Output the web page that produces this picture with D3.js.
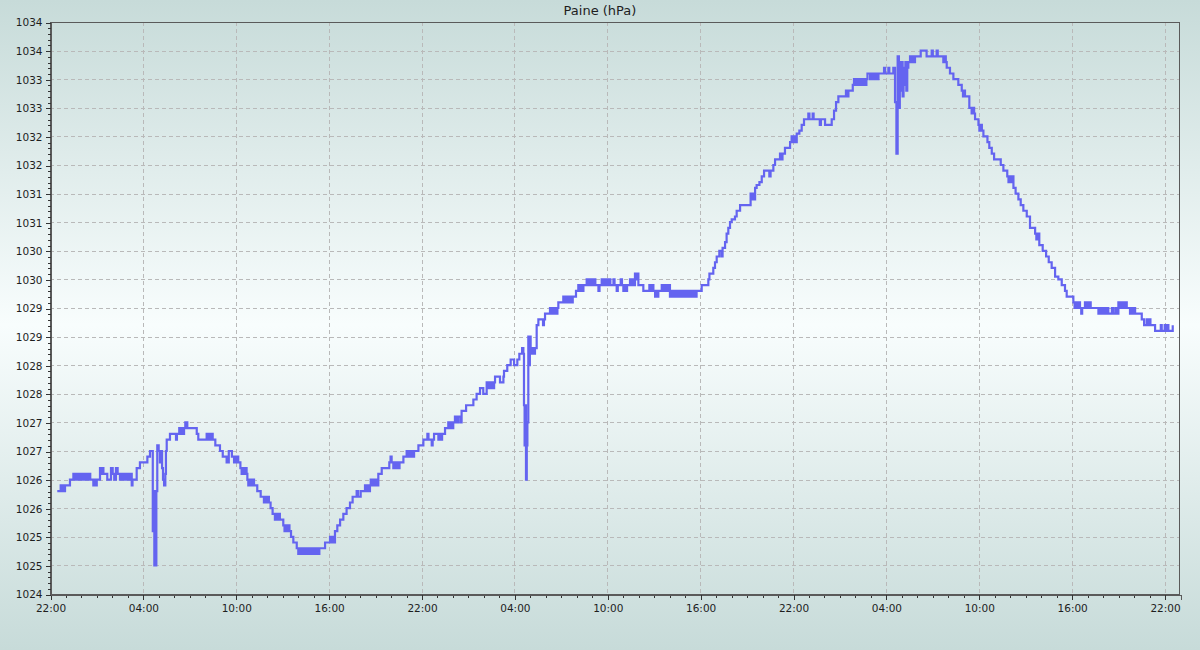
<!DOCTYPE html>
<html><head><meta charset="utf-8">
<script src="https://cdn.jsdelivr.net/npm/d3@7"></script>
<style>html,body{margin:0;padding:0;background:#c8dcda;overflow:hidden}</style>
</head><body><svg id="c" width="1200" height="650"></svg>
<script>
// ---- Data (hours since 22:00 of day 1, pressure hPa) ----
const title = "Paine (hPa)";
const xTickHours = [0,6,12,18,24,30,36,42,48,54,60,66,72];
const xTickLabels = ["22:00","04:00","10:00","16:00","22:00","04:00","10:00","16:00","22:00","04:00","10:00","16:00","22:00"];
const yTickValues = [1024,1024.5,1025,1025.5,1026,1026.5,1027,1027.5,1028,1028.5,1029,1029.5,1030,1030.5,1031,1031.5,1032,1032.5,1033,1033.5,1034];
const yTickLabels = ["1024","1025","1025","1026","1026","1027","1027","1028","1028","1029","1029","1030","1030","1031","1031","1032","1032","1033","1033","1034","1034"];

const hoursA = [0.47,0.69,0.76,0.83,0.90,0.97,1.29,1.51,1.60,1.70,
  1.80,1.90,2.00,2.10,2.20,2.30,2.40,2.50,2.60,2.80,
  2.88,2.95,3.02,3.23,3.30,3.37,3.45,3.70,3.94,4.05,
  4.15,4.26,4.37,4.52,4.60,4.70,4.80,4.90,5.00,5.10,
  5.20,5.28,5.33,5.60,5.81,6.29,6.46,6.64,6.70,6.74,
  6.78,6.82,6.87,6.93,7.02,7.10,7.16,7.24,7.30,7.37,
  7.45,7.49,7.54,7.75,8.14,8.20,8.35,8.42,8.50,8.58,
  8.66,8.74,8.87,9.48,9.58,10.12,10.20,10.28,10.36,10.44,
  10.51,10.68,10.98,11.16,11.41,11.55];
const hpaA = [1025.8,1025.9,1025.8,1025.9,1025.8,1025.9,1026.0,1026.1,1026.0,1026.1,
  1026.0,1026.1,1026.0,1026.1,1026.0,1026.1,1026.0,1026.1,1026.0,1025.9,
  1026.0,1025.9,1026.0,1026.2,1026.1,1026.2,1026.1,1026.0,1026.2,1026.1,
  1026.0,1026.2,1026.1,1026.0,1026.1,1026.0,1026.1,1026.0,1026.1,1026.0,
  1026.1,1025.9,1026.0,1026.2,1026.3,1026.4,1026.5,1025.1,1025.8,1024.5,
  1025.4,1024.5,1025.8,1026.6,1026.5,1026.3,1026.5,1026.2,1026.0,1025.9,
  1026.1,1026.5,1026.7,1026.8,1026.7,1026.8,1026.9,1026.8,1026.9,1026.8,
  1026.9,1027.0,1026.9,1026.8,1026.7,1026.8,1026.7,1026.8,1026.7,1026.8,
  1026.7,1026.6,1026.5,1026.4,1026.3,1026.5];

const hoursB = [11.75,11.89,11.95,12.02,12.09,12.16,12.30,12.38,12.46,12.54,
  12.62,12.70,12.75,12.81,12.90,13.00,13.10,13.18,13.39,13.61,
  13.82,13.90,13.98,14.06,14.14,14.25,14.38,14.53,14.61,14.69,
  14.77,14.85,15.07,15.15,15.23,15.31,15.39,15.47,15.57,15.72,
  15.94,16.04,16.12,16.20,16.28,16.36,16.44,16.52,16.60,16.68,
  16.76,16.84,16.92,17.00,17.08,17.16,17.24,17.32,17.40,17.77,
  18.09,18.17,18.25,18.33,18.41,18.56,18.74,18.95,19.16,19.38,
  19.55,19.81,19.90,20.07,20.35,20.43,20.51,20.59,20.67,20.72,
  20.85,20.92,21.00,21.08,21.15,21.21,21.43,21.92,22.00,22.07,
  22.18,22.26,22.34,22.42,22.50,22.58,22.83,23.04,23.12,23.20,
  23.28,23.36,23.44,23.52,23.80,24.12];
const hpaB = [1026.4,1026.3,1026.4,1026.3,1026.4,1026.3,1026.2,1026.1,1026.2,1026.1,
  1026.2,1026.1,1026.0,1025.9,1026.0,1025.9,1026.0,1025.9,1025.8,1025.7,
  1025.6,1025.7,1025.6,1025.7,1025.6,1025.5,1025.4,1025.3,1025.4,1025.3,
  1025.4,1025.3,1025.2,1025.1,1025.2,1025.1,1025.2,1025.1,1025.0,1024.9,
  1024.8,1024.7,1024.8,1024.7,1024.8,1024.7,1024.8,1024.7,1024.8,1024.7,
  1024.8,1024.7,1024.8,1024.7,1024.8,1024.7,1024.8,1024.7,1024.8,1024.9,
  1025.0,1024.9,1025.0,1024.9,1025.1,1025.2,1025.3,1025.4,1025.5,1025.6,
  1025.7,1025.8,1025.7,1025.8,1025.9,1025.8,1025.9,1025.8,1025.9,1026.0,
  1025.9,1026.0,1025.9,1026.0,1025.9,1026.1,1026.2,1026.3,1026.4,1026.3,
  1026.2,1026.3,1026.2,1026.3,1026.2,1026.3,1026.4,1026.5,1026.4,1026.5,
  1026.4,1026.5,1026.4,1026.5,1026.6,1026.7];

const hoursC = [24.38,24.45,24.66,24.72,24.81,25.09,25.17,25.25,25.33,25.52,
  25.73,25.81,25.89,25.97,26.05,26.16,26.30,26.38,26.53,26.59,
  26.88,27.35,27.56,27.78,27.99,28.21,28.29,28.37,28.45,28.53,
  28.61,28.69,28.75,29.07,29.29,29.33,29.54,29.76,29.98,30.19,
  30.32,30.50,30.58,30.62,30.66,30.70,30.75,30.80,30.84,30.90,
  30.95,31.00,31.05,31.10,31.15,31.20,31.25,31.33,31.44,31.55,
  31.85,31.91,31.98,32.30,32.38,32.46,32.54,32.62,32.70,32.78,
  32.84,33.16,33.24,33.32,33.40,33.48,33.56,33.64,33.72,33.77,
  33.98,34.13,34.21,34.29,34.37,34.46,34.67,34.75,34.83,34.91,
  34.99,35.07,35.15,35.23,35.32,35.43,35.50,35.64,35.72,35.80,
  35.88,35.96,36.04,36.12,36.20];
const hpaC = [1026.8,1026.7,1026.6,1026.7,1026.8,1026.7,1026.8,1026.7,1026.8,1026.9,
  1027.0,1026.9,1027.0,1026.9,1027.0,1027.1,1027.0,1027.1,1027.0,1027.2,
  1027.3,1027.4,1027.5,1027.6,1027.5,1027.7,1027.6,1027.7,1027.6,1027.7,
  1027.6,1027.7,1027.8,1027.7,1027.8,1027.9,1028.0,1028.1,1028.0,1028.1,
  1028.2,1028.3,1028.2,1027.3,1026.6,1027.3,1026.0,1026.6,1027.0,1028.5,
  1028.0,1028.5,1028.2,1028.3,1028.2,1028.3,1028.2,1028.3,1028.7,1028.8,
  1028.7,1028.8,1028.9,1029.0,1028.9,1029.0,1028.9,1029.0,1028.9,1029.0,
  1029.1,1029.2,1029.1,1029.2,1029.1,1029.2,1029.1,1029.2,1029.1,1029.2,
  1029.3,1029.4,1029.3,1029.4,1029.3,1029.4,1029.5,1029.4,1029.5,1029.4,
  1029.5,1029.4,1029.5,1029.4,1029.4,1029.3,1029.4,1029.5,1029.4,1029.5,
  1029.4,1029.5,1029.4,1029.5,1029.4];

const hoursD = [36.29,36.40,36.47,36.61,36.68,36.87,36.95,37.04,37.12,37.20,
  37.28,37.36,37.47,37.55,37.63,37.71,37.79,37.86,37.93,38.01,
  38.33,38.72,38.80,38.88,38.98,39.09,39.17,39.25,39.30,39.52,
  39.62,39.70,39.78,39.86,39.94,40.02,40.05,40.13,40.21,40.29,
  40.37,40.45,40.53,40.61,40.69,40.77,40.85,40.93,41.01,41.09,
  41.17,41.25,41.33,41.41,41.49,41.57,41.65,41.77,42.10,42.53,
  42.60,42.85,42.96,43.07,43.24,43.39,43.45,43.61,43.71,43.82,
  43.93,44.04,44.25,44.36,44.58,45.26,45.34,45.42,45.50,45.55,
  45.65,45.83,45.98,46.13,46.47,46.55,46.73,46.84,47.16,47.24,
  47.32,47.48,47.81,47.91,47.99,48.07,48.15,48.24,48.41];
const hpaD = [1029.4,1029.5,1029.4,1029.3,1029.4,1029.5,1029.4,1029.3,1029.4,1029.3,
  1029.4,1029.4,1029.5,1029.4,1029.5,1029.4,1029.6,1029.5,1029.6,1029.4,
  1029.3,1029.4,1029.3,1029.4,1029.3,1029.2,1029.3,1029.2,1029.3,1029.4,
  1029.3,1029.4,1029.3,1029.4,1029.3,1029.4,1029.2,1029.3,1029.2,1029.3,
  1029.2,1029.3,1029.2,1029.3,1029.2,1029.3,1029.2,1029.3,1029.2,1029.3,
  1029.2,1029.3,1029.2,1029.3,1029.2,1029.3,1029.2,1029.3,1029.4,1029.5,
  1029.6,1029.7,1029.8,1029.9,1030.0,1029.9,1030.05,1030.15,1030.3,1030.4,
  1030.5,1030.55,1030.6,1030.7,1030.8,1031.0,1030.9,1031.0,1030.9,1031.1,
  1031.15,1031.2,1031.3,1031.4,1031.3,1031.4,1031.5,1031.6,1031.7,1031.6,
  1031.7,1031.8,1031.9,1032.0,1031.9,1032.0,1031.9,1032.05,1032.1];

const hoursE = [48.56,48.71,48.99,49.06,49.27,49.33,49.73,49.80,50.07,50.50,
  50.65,50.78,50.93,51.14,51.42,51.50,51.58,51.86,51.94,52.02,
  52.10,52.18,52.26,52.34,52.42,52.50,52.58,52.66,52.74,52.81,
  52.98,53.06,53.14,53.22,53.30,53.38,53.46,53.52,53.88,53.95,
  54.16,54.22,54.48,54.59,54.68,54.76,54.84,54.90,54.96,55.02,
  55.08,55.14,55.20,55.26,55.32,55.38,55.45,55.56,55.64,55.72,
  55.80,55.88,56.25,56.63,56.96,57.03,57.28,57.35,57.71,57.79,
  57.87,57.93,58.14,58.36,58.68,58.90,58.98,59.06,59.11,59.39];
const hpaE = [1032.2,1032.3,1032.4,1032.3,1032.4,1032.3,1032.2,1032.3,1032.2,1032.3,
  1032.45,1032.6,1032.7,1032.7,1032.8,1032.7,1032.8,1032.9,1033.0,1032.9,
  1033.0,1032.9,1033.0,1032.9,1033.0,1032.9,1033.0,1032.9,1033.0,1033.1,
  1033.0,1033.1,1033.0,1033.1,1033.0,1033.1,1033.0,1033.1,1033.2,1033.1,
  1033.2,1033.1,1033.2,1032.6,1031.7,1033.4,1032.5,1033.3,1032.8,1033.3,
  1032.7,1033.2,1032.9,1033.3,1032.8,1033.2,1033.3,1033.4,1033.3,1033.4,
  1033.3,1033.4,1033.5,1033.4,1033.5,1033.4,1033.5,1033.4,1033.3,1033.4,
  1033.3,1033.2,1033.1,1033.0,1032.9,1032.8,1032.7,1032.8,1032.7,1032.5];

const hoursF = [59.54,59.62,59.70,59.76,59.98,60.04,60.12,60.20,60.30,60.56,
  60.68,60.84,60.99,61.42,61.59,61.84,61.92,62.00,62.08,62.16,
  62.24,62.38,62.56,62.71,62.88,63.10,63.31,63.64,63.72,63.80,
  63.91,64.13,64.35,64.52,64.71,64.93,65.14,65.36,65.57,65.68,
  66.11,66.19,66.27,66.35,66.43,66.54,66.62,66.68,66.86,66.94,
  67.02,67.10,67.16,67.23,67.73,67.81,67.89,67.97,68.05,68.13,
  68.21,68.29,68.37,68.60,68.70,68.85,68.92,69.02,69.10,69.18,
  69.26,69.34,69.42,69.50,69.56,69.77,69.85,69.93,70.01,70.10,
  70.53,70.68,70.85,70.93,71.01,71.09,71.39,71.76,71.82,72.01,
  72.09,72.17,72.25,72.53];
const hpaF = [1032.4,1032.5,1032.4,1032.3,1032.2,1032.1,1032.2,1032.1,1032.0,1031.9,
  1031.8,1031.7,1031.6,1031.5,1031.4,1031.3,1031.2,1031.3,1031.2,1031.3,
  1031.1,1031.0,1030.9,1030.8,1030.7,1030.6,1030.4,1030.3,1030.2,1030.3,
  1030.1,1030.0,1029.9,1029.8,1029.7,1029.55,1029.5,1029.4,1029.3,1029.2,
  1029.1,1029.0,1029.1,1029.0,1029.1,1029.0,1028.9,1029.0,1029.1,1029.0,
  1029.1,1029.0,1029.1,1029.0,1028.9,1029.0,1028.9,1029.0,1028.9,1029.0,
  1028.9,1029.0,1028.9,1029.0,1028.9,1029.0,1028.9,1029.1,1029.0,1029.1,
  1029.0,1029.1,1029.0,1029.1,1029.0,1028.9,1029.0,1028.9,1029.0,1028.9,
  1028.8,1028.7,1028.8,1028.7,1028.8,1028.7,1028.6,1028.7,1028.6,1028.7,
  1028.6,1028.7,1028.6,1028.7];

// ---- Build series ----
const hours = [].concat(hoursA, hoursB, hoursC, hoursD, hoursE, hoursF);
const hpa = [].concat(hpaA, hpaB, hpaC, hpaD, hpaE, hpaF);
const series = hours.map((h,i)=>({h:h, v:hpa[i]}));

// ---- Layout ----
const W = 1200, H = 650;
const L = 50, R = 1180, T = 22, B = 594;
const svg = d3.select("#c");
const font = "DejaVu Sans, sans-serif";

const defs = svg.append("defs");
const grad = defs.append("linearGradient").attr("id","bg").attr("x1",0).attr("y1",0).attr("x2",0).attr("y2",1);
grad.append("stop").attr("offset","0%").attr("stop-color","#c7dbd9");
grad.append("stop").attr("offset","50%").attr("stop-color","#f8fdfd");
grad.append("stop").attr("offset","100%").attr("stop-color","#c7dbd9");
svg.append("rect").attr("width",W).attr("height",H).attr("fill","url(#bg)");

const x = d3.scaleLinear().domain([0,73]).range([L,R]);
const y = d3.scaleLinear().domain([1024,1034]).range([B,T]);

// grid
const grid = svg.append("g").attr("stroke","#b9b9b9").attr("stroke-width",1).attr("stroke-dasharray","4,3").attr("shape-rendering","crispEdges");
grid.selectAll("line.h").data(yTickValues.slice(1,-1)).join("line")
  .attr("x1",L).attr("x2",R).attr("y1",d=>Math.round(y(d))+0.5).attr("y2",d=>Math.round(y(d))+0.5);
grid.selectAll("line.v").data(xTickHours.slice(1)).join("line")
  .attr("y1",T).attr("y2",B).attr("x1",d=>Math.round(x(d))+0.5).attr("x2",d=>Math.round(x(d))+0.5);

// line
const line = d3.line().x(d=>x(d.h)).y(d=>y(d.v)).curve(d3.curveStepAfter);
svg.append("path").datum(series).attr("d",line)
  .attr("fill","none").attr("stroke","#6464f0").attr("stroke-width",2.2).attr("stroke-linejoin","miter");

// frame
svg.append("rect").attr("x",L+0.5).attr("y",T+0.5).attr("width",R-L-1).attr("height",B-T)
  .attr("fill","none").attr("stroke","#5a5a5a").attr("stroke-width",1).attr("shape-rendering","crispEdges");

// minor ticks
const minorX = d3.range(0,74,1);
const minorY = d3.range(0,101,1).map(i=>1024+i/10);
const axMinX = d3.axisBottom(x).tickValues(minorX).tickSize(3).tickFormat("");
const axMinY = d3.axisLeft(y).tickValues(minorY).tickSize(3).tickFormat("");
const gmx = svg.append("g").attr("transform",`translate(0.5,${B+0.5})`).call(axMinX);
const gmy = svg.append("g").attr("transform",`translate(${L+0.5},0.5)`).call(axMinY);
[gmx,gmy].forEach(g=>{g.select(".domain").remove(); g.selectAll("line").attr("stroke","#333").attr("shape-rendering","crispEdges");});

// major axes
const axX = d3.axisBottom(x).tickValues(xTickHours).tickSize(5).tickPadding(5)
  .tickFormat((d,i)=>xTickLabels[i]);
const axY = d3.axisLeft(y).tickValues(yTickValues).tickSize(5).tickPadding(3)
  .tickFormat((d,i)=>yTickLabels[i]);
const gx = svg.append("g").attr("transform",`translate(0.5,${B+0.5})`).call(axX);
const gy = svg.append("g").attr("transform",`translate(${L+0.5},0.5)`).call(axY);
[gx,gy].forEach(g=>{
  g.select(".domain").attr("stroke","#5a5a5a").attr("shape-rendering","crispEdges");
  g.selectAll("line").attr("stroke","#333").attr("shape-rendering","crispEdges");
  g.selectAll("text").attr("fill","#1e1e1e").style("font-family",font).style("font-size","10.5px");
});

// title
svg.append("text").attr("x",600).attr("y",15).attr("text-anchor","middle")
  .style("font-family",font).style("font-size","13px").attr("fill","#1e1e1e").text(title);
</script></body></html>
